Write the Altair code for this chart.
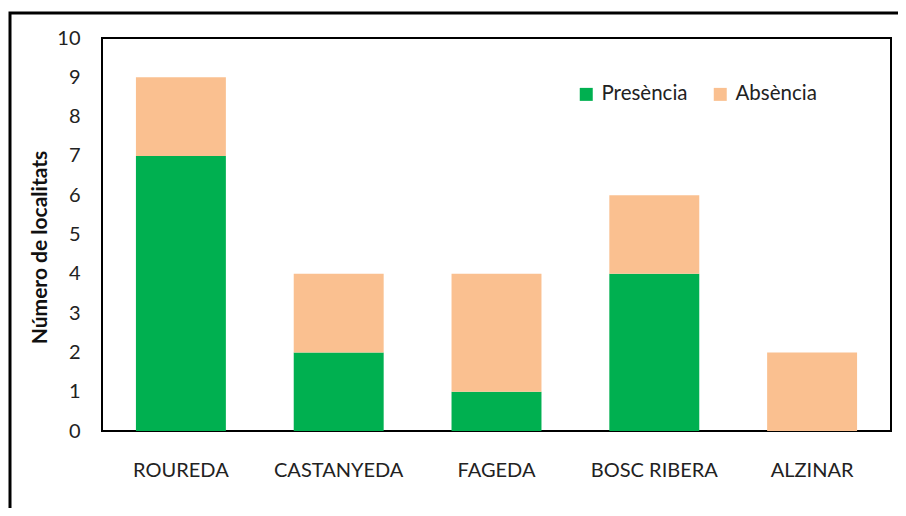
import altair as alt
import pandas as pd

categories = ["ROUREDA", "CASTANYEDA", "FAGEDA", "BOSC RIBERA", "ALZINAR"]
presencia = [7, 2, 1, 4, 0]
absencia = [2, 2, 3, 2, 2]
series = ["Presència", "Absència"]
colors = ["#00B050", "#FAC090"]
y_ticks = list(range(0, 11))

rows = []
for c, p, a in zip(categories, presencia, absencia):
    rows.append({"cat": c, "serie": series[0], "val": p, "ord": 0})
    rows.append({"cat": c, "serie": series[1], "val": a, "ord": 1})
df = pd.DataFrame(rows)

FONT = "Lato"

bars = alt.Chart(df).mark_bar(width={"band": 0.57}).encode(
    x=alt.X("cat:N", sort=categories, title=None,
            scale=alt.Scale(paddingInner=0, paddingOuter=0),
            axis=alt.Axis(labelAngle=0, ticks=False, domain=False, labelPadding=29,
                          labelFontSize=20, labelColor="#222", labelFont=FONT)),
    y=alt.Y("val:Q", stack="zero", title="Número de localitats",
            scale=alt.Scale(domain=[0, 10], nice=False),
            axis=alt.Axis(values=y_ticks, grid=False, ticks=False, domain=False,
                          labelPadding=22, labelFontSize=20, labelColor="#222", labelFont=FONT,
                          titleFontSize=21, titleFontWeight="bold", titleFont=FONT,
                          titleColor="#111", titleAngle=-90, titleAlign="center",
                          titleBaseline="middle", titleX=-62, titleY=209)),
    color=alt.Color("serie:N", scale=alt.Scale(domain=series, range=colors),
                    legend=alt.Legend(title=None, orient="none", legendX=474, legendY=46,
                                      direction="horizontal", symbolType="square",
                                      symbolSize=169, symbolStrokeWidth=0,
                                      labelFontSize=20.5, labelFont=FONT, labelColor="#222",
                                      columnPadding=22, padding=0, labelOffset=5)),
    order=alt.Order("ord:Q"),
)

frame = alt.Chart(pd.DataFrame({"a": [0]})).mark_rect(
    fill=None, stroke="black", strokeWidth=3
).encode(
    x=alt.value(-92), x2=alt.value(820), y=alt.value(-25), y2=alt.value(490)
)

chart = alt.layer(frame, bars).properties(
    width=789, height=393,
    background="white",
    autosize=alt.AutoSizeParams(type="none"),
    padding={"left": 94, "top": 30, "right": 7, "bottom": 77},
).configure_view(stroke="black", strokeWidth=2)

chart.save("out.html", embed_options={"renderer": "svg", "actions": False})
